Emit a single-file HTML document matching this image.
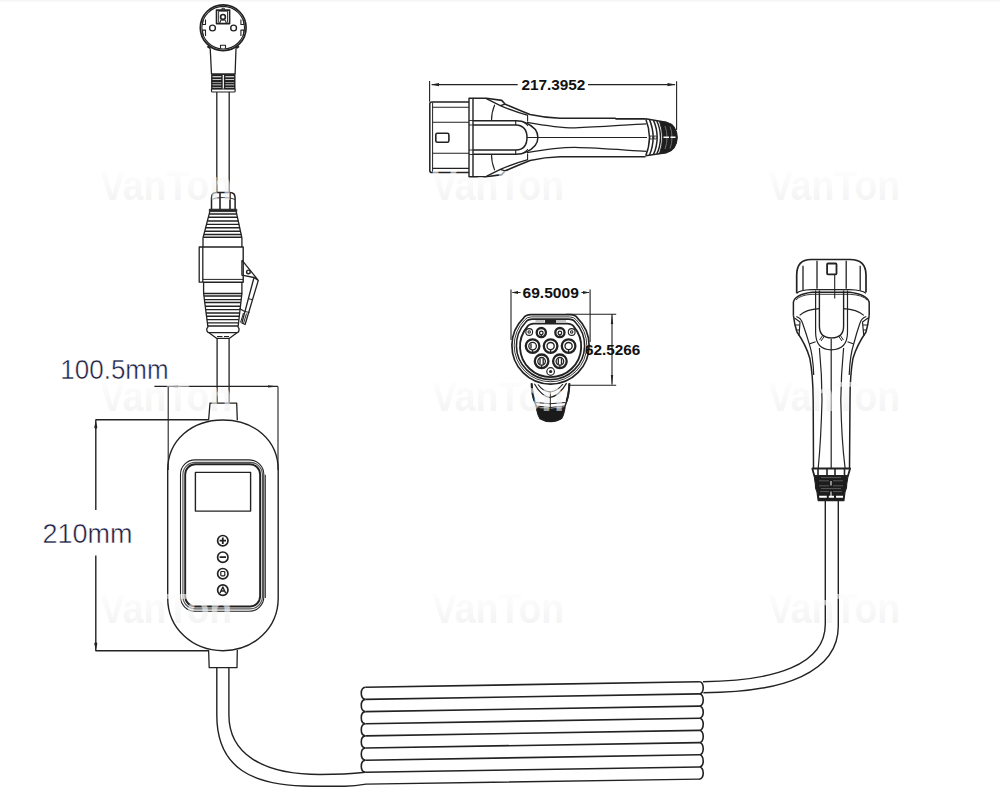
<!DOCTYPE html>
<html><head><meta charset="utf-8"><style>
html,body{margin:0;padding:0;background:#fff;}
svg{display:block;}
text{font-family:"Liberation Sans",sans-serif;}
</style></head><body>
<svg width="1000" height="799" viewBox="0 0 1000 799">
<rect x="0" y="0" width="1000" height="1.6" fill="#f6f6f6"/>
<g fill="none" stroke="#222" stroke-width="1.3" stroke-linejoin="round">
<!-- PLUG -->
<circle cx="223.2" cy="27.7" r="22.9" stroke-width="1.7"/>
<circle cx="223.2" cy="27.7" r="21.3" stroke-width="1.1"/>
<path d="M203.3 19.5Q202.6 22 202.5 24.5H205.5V19.5M203.3 35.9Q202.6 33.4 202.5 30.1H205.5V35.9M243.1 19.5Q243.8 22 243.9 24.5H240.9V19.5M243.1 35.9Q243.8 33.4 243.9 30.1H240.9V35.9" stroke-width="1.1"/>
<path d="M216.5 23.6V10.1H229.6V23.6Z" stroke-width="1.6"/>
<path d="M222 10.1V8.2H224.3V10.1" stroke-width="1"/>
<path d="M218.6 22.3V11.2H227.5V22.3H225.6V20.2H220.5V22.3Z" stroke-width="0.9"/>
<circle cx="223" cy="16.9" r="2.4" stroke-width="1.6"/>
<circle cx="212.5" cy="28" r="2.9" stroke-width="1.4"/>
<circle cx="233.6" cy="28" r="2.9" stroke-width="1.4"/>
<path d="M220.5 48.5V45.2H225.5V48.5" stroke-width="1.1"/>
<path d="M207.4 46.2L210.2 48.3M239 46.2L236.2 48.3" stroke-width="2"/>
<path d="M210.2 48.3L211.5 74.2H235.1L236 48.3" stroke-width="1.3"/>
<path d="M211.5 74.2H235.1" stroke-width="1.3"/>
<path d="M211.8 75.5H222V88.5H211.8ZM224.6 75.5H234.8V88.5H224.6Z" stroke-width="1.4"/>
<g stroke-width="2">
<path d="M211.8 78.2H222M224.6 78.2H234.8M211.8 80.9H222M224.6 80.9H234.8M211.8 83.6H222M224.6 83.6H234.8M211.8 86.2H222M224.6 86.2H234.8"/>
</g>
<path d="M211.5 89H235.1V91.2Q235.1 92 234 92H212.6Q211.5 92 211.5 91.2Z" stroke-width="1.2"/>
<!-- CABLE1 -->
<path d="M216.8 92V192.5M229.2 92V192.5" stroke-width="1.3"/>
<!-- ADAPTER -->
<path d="M211.5 209.2V198Q211.5 192.5 216.5 192.5H230Q235.1 192.5 235.1 198V209.2" stroke-width="1.5"/>
<path d="M211.5 199.5Q215 197.5 223.3 197.5Q231.6 197.5 235.1 199.5" stroke-width="0.9"/>
<path d="M220 193V209.2M230 193V209.2" stroke-width="1.6"/>
<rect x="209.3" y="209.2" width="27.5" height="2.4" fill="#222" stroke-width="0.8"/>
<path d="M209.8 211.6L203 238V247M236.2 211.6L241.9 238V247" stroke-width="1.3"/>
<g stroke-width="1.4">
<path d="M209.2 214H236.8M208.4 217.2H237.6M207.5 221H238.4M206.6 224.4H239.3M205.8 227.8H240.1M205 231.2H240.9M204 234.5H241.3M203.4 237.2H241.6"/>
</g>
<path d="M203 247H243.2V282.2H203" stroke-width="1.4"/>
<path d="M202.8 247V282.2M199.2 247H202.8V282.2H199.2Z" stroke-width="1.3"/>
<path d="M203 279.4H243" stroke-width="1"/>
<path d="M203.6 282.2V293.5H241.9V282.2" stroke-width="1.3"/>
<path d="M203.6 293.5L208 327.6M241.9 293.5L238 327.6" stroke-width="1.3"/>
<g stroke-width="1.4">
<path d="M204 296H241.6M204.3 299.6H241.3M204.8 302.5H240.8M205.2 306.3H240.4M205.6 309.6H240M206 313H239.6M206.4 316.3H239.2M206.8 319.6H238.8M207.2 322.9H238.4M207.6 326H238"/>
</g>
<path d="M208 327.6Q206.5 327.6 206.8 330Q207.2 332.7 209 332.7H237Q238.8 332.7 239 330Q239.3 327.6 238 327.6" stroke-width="1.3"/>
<path d="M209 332.7L216.5 338.3H229.5L237 332.7" stroke-width="1.3"/>
<path d="M217 336.5H222.5M224 336.5H229" stroke-width="1.2"/>
<!-- latch -->
<path d="M241.9 260.2V275.2L254 277.5M241.9 260.2L258.3 280.4L245.1 324.5L241.9 323L254 277.5L258.3 280.4" stroke-width="1.3"/>
<path d="M248.4 298.7L252.2 299.6M244.2 311.3L249.5 312.5M243.5 313L240.5 322.5M246.5 313.5L243.5 323.5" stroke-width="1"/>
<path d="M239.5 308.5L244.2 311.3" stroke-width="1.2"/>
<circle cx="248.4" cy="271.9" r="1.8" stroke-width="1.4"/>
<!-- CABLE2 -->
<path d="M217.1 338.3V403.2M229.1 338.3V403.2" stroke-width="1.3"/>
<!-- BOX -->
<path d="M208.6 420.2L210 403.2H236.7L237.3 420.2" stroke-width="1.3"/>
<path d="M223 420C192 420 167.7 440 167.7 470V598C167.7 628 192 650.7 223 650.7C254 650.7 278.2 628 278.2 598V470C278.2 440 254 420 223 420Z" stroke-width="1.4"/>
<rect x="180.5" y="459.9" width="83.3" height="151.4" rx="14.5" stroke-width="1.1"/>
<path d="M265.3 474.8V598" stroke-width="1"/>
<rect x="182.9" y="462.3" width="79.5" height="146.6" rx="12.3" stroke-width="1.2" stroke="#555"/>
<rect x="185.2" y="464.3" width="74.9" height="142.2" rx="10.2" stroke-width="1.9"/>
<rect x="195.4" y="472.4" width="55.2" height="38.7" stroke-width="1.4"/>
<g stroke-width="1.7">
<circle cx="222.8" cy="540.7" r="5.2"/>
<circle cx="222.8" cy="557.2" r="5.2"/>
<circle cx="222.8" cy="573.7" r="5.2"/>
<circle cx="222.8" cy="590.1" r="5.2"/>
</g>
<path d="M219.6 540.7H226M222.8 537.5V543.9M219.6 557.2H226" stroke-width="1.8"/>
<rect x="220.8" y="571.5" width="4" height="4.4" rx="0.8" stroke-width="1.2"/>
<path d="M220 593L222.8 587L225.6 593M221 591H224.6" stroke-width="1.4"/>
<path d="M208.6 650L209.2 667.7H237L237.3 650" stroke-width="1.3"/>
<!-- CABLEBOX -->
<path d="M216.8 667.7V715C216.8 768 252 786.2 312 786.2H345Q355 786 366 784.1L699 779.1" stroke-width="1.4"/>
<path d="M228.9 667.7V715C228.9 752 260 774.5 320 774.5Q345 774.5 365.4 772.3" stroke-width="1.4"/>
<!-- DIMS -->
<g stroke-width="1.1">
<path d="M154.4 386.4H277.9M168.2 386.4V470M278 386.4V470"/>
<path d="M95.4 419.7H208.6M95.4 650.8H208.6M95.8 420V510M95.8 555.5V651" stroke-width="1.4"/>
</g>
<g fill="#222" stroke="none">
<path d="M277.9 386.4L268 385.2V387.6Z"/>
<path d="M168.2 386.4L178 385.2V387.6Z"/>
<path d="M95.8 421L94.2 427.5L95.8 429.2L97.4 427.5Z"/>
<path d="M95.8 650L94.2 643.5L95.8 641.8L97.4 643.5Z"/>
</g>
<text x="60.3" y="379" font-size="27.5" fill="#1b2044" stroke="#fff" stroke-width="0.5" textLength="108.4" lengthAdjust="spacingAndGlyphs">100.5mm</text>
<text x="42.5" y="542.8" font-size="28" fill="#1b2044" stroke="#fff" stroke-width="0.5" textLength="90" lengthAdjust="spacingAndGlyphs">210mm</text>
<!-- SIDEVIEW -->
<g stroke-width="1.1">
<path d="M429.6 81V101.7M676.6 81.3V130"/>
<path d="M431.7 84.6H517.7M588.1 84.6H675"/>
</g>
<g fill="#222" stroke="none">
<path d="M431.2 84.6L439 83V86.2Z"/>
<path d="M675.5 84.6L667.5 83V86.2Z"/>
</g>
<text x="521.4" y="90.4" font-size="15" font-weight="bold" fill="#111" stroke="none" textLength="64" lengthAdjust="spacingAndGlyphs">217.3952</text>
<path d="M469 101.9H432Q429.8 101.9 429.8 104V170.5Q429.8 172.6 432 172.6H469" stroke-width="1.5"/>
<path d="M432.6 102.5V172" stroke-width="1"/>
<path d="M432.6 107.2H469M432.6 122.3H469M432.6 153.3H469M432.6 168.4H469" stroke-width="1.1"/>
<rect x="435.8" y="133.3" width="13.1" height="9" rx="1.6" stroke-width="1.6"/>
<path d="M469 98.2H473V176.7H469Z" stroke-width="1.4"/>
<path d="M469 120.5H473M469 125H473M469 150H473M469 154.5H473" stroke-width="0.9"/>
<path d="M473 98.3H486.3L501.7 100.4L505.2 104.2Q520 110.5 530 114.5Q545 117.8 560 118.2H615L616 118.9H645.6" stroke-width="1.6"/>
<path d="M473 176.7H486.3L501.7 174.6L505.2 170.8Q520 164.5 530 160.5Q545 157.2 560 156.8H645.6" stroke-width="1.6"/>
<path d="M486.3 98.6L500.3 105.6Q514 111.5 528 115.3M486.3 176.4L500.3 169.4Q514 163.5 528 159.7M500.3 105.6L505.2 104.2M500.3 169.4L505.2 170.8" stroke-width="1.3"/>
<path d="M494.7 104.8Q491.3 113 491.5 121M494.7 170.2Q491.3 162 491.5 154" stroke-width="1.1"/>
<path d="M515.7 120.7V124.9M515.7 150.1V154.3M527.6 115V121.5M527.6 153.5V160" stroke-width="1.1"/>



<path d="M473 120.7H516Q522 120.7 526 123Q537.9 128 537.9 137.5Q537.9 147 526 152Q522 154.3 516 154.3H473" stroke-width="1.5"/>
<path d="M473 124.9H516Q527 125.5 527 137.5Q527 149.5 516 150.1H473" stroke-width="1.5"/>
<path d="M523.5 122L528 126M523.5 153L528 149" stroke-width="1"/>

<path d="M527 122.3C548 126 560 128 575 127.8C600 127 630 124.4 646.3 123.8M527 152.6C548 149 560 147.3 575 147.4C600 148 630 150.5 646.3 151.3" stroke-width="1.2"/>
<path d="M527 137.5H647" stroke-width="1.2"/>
<!-- tail -->
<path d="M645.6 118.8L666 122.3Q676.5 125 677 137.5Q676.5 150 666 152.7L645.6 155.7" stroke-width="1.6"/>
<path d="M659.5 121.5L666 122.3Q676.5 125 677 137.5Q676.5 150 666 152.7L659.5 153.5Q662.5 146 662.5 137.5Q662.5 129 659.5 121.5Z" fill="#1e1e1e" stroke-width="1"/>
<path d="M645.8 119Q649.3 128 649.5 137.5Q649.3 147 645.8 155.5M649.5 119.6Q653 128 653.2 137.5Q653 147 649.5 155M653.5 120.4Q657 128 657.2 137.5Q657 147 653.5 154.4M656.8 121Q660.3 128 660.5 137.5Q660.3 147 656.8 153.9" stroke-width="1.5"/>
<path d="M650 136H652.5V139H650ZM654 136H656.3V139H654Z" fill="#fff" stroke="#222" stroke-width="0.8"/>
<path d="M665 126Q667 131 667 137.5Q667 144 665 149M670 126.5Q672 131 672 137.5Q672 144 670 148.5" stroke="#777" stroke-width="0.9"/>
<path d="M663.5 137.3H669M670.5 137.3H675.5" stroke="#fff" stroke-width="1.4"/>
<!-- FRONTVIEW -->
<g stroke-width="1.1">
<path d="M511 289.4V340M590.1 289.4V342"/>
<path d="M512.5 292.5H520.6M581.4 292.5H588.9"/>
<path d="M566 314.2H616.2M568.6 385.3H616.2M612 314.5V384.6"/>
</g>
<g fill="#222" stroke="none">
<path d="M511.5 292.5L518 291V294Z"/>
<path d="M589.6 292.5L583 291V294Z"/>
<path d="M612 314.5L610.8 324H613.2Z"/>
<path d="M612 384.8L610.8 375H613.2Z"/>
</g>
<text x="522.5" y="298.1" font-size="14" font-weight="bold" fill="#111" stroke="none" textLength="56.3" lengthAdjust="spacingAndGlyphs">69.5009</text>
<!-- handle under -->
<path d="M531.6 383.1Q533 398 536.3 406.3Q537.5 414 540 418.5Q545 421.5 551 421.5Q557 421.5 561.5 418.5Q564 414 565 406.3Q568.5 398 569.4 383.1" stroke-width="1.5"/>
<path d="M534.4 383.8Q541 396 550 397.5Q559 396 566.6 383.1M538 384.5Q543 391.5 550 392Q557 391.5 563 384" stroke-width="1.2"/>
<path d="M550.3 391.3V410M535.5 402.5Q550 405 565.5 402.5M536.5 406Q550 409 564.8 406" stroke-width="1"/>
<path d="M536.6 407.5Q550 410.5 564.8 407.5Q563.5 415 561.5 418.5Q557 421.5 551 421.5Q545 421.5 540 418.5Q537.5 414 536.6 407.5Z" fill="#1a1a1a" stroke-width="1"/>
<path d="M531.6 383.5Q532 395 534.5 401" stroke-width="2"/>
<path d="M569.4 383.5Q569 395 566.5 401" stroke-width="2"/>
<!-- outer head -->
<path d="M530.7 314.6 H570.3 Q575.2 314.6 577.3 317.8 A38.6 38.6 0 1 1 523.7 317.8 Q525.8 314.6 530.7 314.6 Z" fill="#fff" stroke-width="1.7"/>
<path d="M531.6 316.9 H569.4 Q574.3 316.9 576.4 320.0 A36.3 36.3 0 1 1 524.6 320.0 Q526.7 316.9 531.6 316.9 Z" stroke-width="0.9"/>
<path d="M532.6 319.1 H568.4 Q573.3 319.1 575.4 322.2 A34.1 34.1 0 1 1 525.6 322.2 Q527.7 319.1 532.6 319.1 Z" stroke-width="1.6"/>
<path d="M534.2 323.6 H567.0 Q571.9 323.6 574.0 326.8 A30.6 30.6 0 1 1 527.2 326.8 Q529.3 323.6 534.2 323.6 Z" stroke-width="1.9"/>
<path d="M535.5 321H544.5M556 321H566" stroke-width="1" stroke="#888"/>
<rect x="545" y="320" width="11" height="3.6" fill="#222" stroke="none"/>
<g stroke-width="1.1">
<circle cx="529.2" cy="332" r="3.4"/><circle cx="529.2" cy="332" r="1.2"/>
<circle cx="571.7" cy="332" r="3.4"/><circle cx="571.7" cy="332" r="1.2"/>
</g>
<g stroke-width="2.3">
<circle cx="541.3" cy="332.6" r="4.6"/>
<circle cx="559.9" cy="332.6" r="4.6"/>
<circle cx="532.6" cy="346.1" r="6.8"/>
<circle cx="550.6" cy="346.1" r="6.8"/>
<circle cx="568.6" cy="346.1" r="6.8"/>
<circle cx="541.6" cy="361.3" r="6.8"/>
<circle cx="559.9" cy="361.3" r="6.8"/>
</g>
<g stroke-width="1.3">
<circle cx="541.3" cy="333" r="1.8"/>
<circle cx="559.9" cy="333" r="1.8"/>
<circle cx="532.6" cy="346.1" r="3.8"/>
<circle cx="550.6" cy="346.1" r="3.6"/>
<circle cx="568.6" cy="346.1" r="3.6"/>
<circle cx="541.6" cy="361.3" r="3.8"/>
<circle cx="559.9" cy="361.3" r="3.8"/>
<path d="M541.3 334.8V337.2M559.9 334.8V337.2M532.6 350V353M550.6 349.7V353M568.6 349.7V353M541.6 365V368M559.9 365V368M531 343.5V348.5M540 358.5V364M558.3 358.5V364M543.2 358.5V364M561.5 358.5V364"/>
</g>
<circle cx="550.6" cy="371.5" r="3.8" stroke-width="1.2"/>
<circle cx="550.6" cy="371.5" r="1.6" fill="#222" stroke="none"/>
<text x="585" y="355.2" font-size="15.5" font-weight="bold" fill="#111" stroke="none" textLength="55.3" lengthAdjust="spacingAndGlyphs">62.5266</text>
<!-- HANDLE -->
<path d="M796.7 293.2V275Q796.7 259.5 811 259.5H850Q866 259.5 866 275V292.3" stroke-width="1.7"/>
<path d="M803 265.8V290.5M817 260.8V288.7M846.2 260.8V288.7M860.2 265.8V290.5" stroke-width="1.3"/>
<rect x="827.1" y="263.5" width="9.4" height="10.8" rx="0.8" stroke-width="1.8"/>
<path d="M834.7 274.3V298.6" stroke-width="1.1"/>
<path d="M793.4 315.4V302.2Q795 294.5 812 292.3H849.8Q867 294.5 869.2 302.2V315.4" stroke-width="1.5"/>
<path d="M796.7 293.2Q800 290 811.1 289.6H849.8Q862 290 866 293.2" stroke-width="1.2"/>
<path d="M796 300Q800 295 812 294.3H849.8Q863 295 867 300" stroke-width="0.9"/>
<!-- U -->
<path d="M819.4 290.5V326Q819.4 337.9 831.5 337.9Q843.6 337.9 843.6 326V290.5" stroke-width="1.4"/>
<path d="M815.6 290.5V332.3Q815.6 349.8 831.2 349.8Q847.5 349.8 847.5 332.3V290.5" stroke-width="1.2"/>
<path d="M823 335L819.6 340M840 335L843.4 340M824.5 336L821 341M838.5 336L842 341" stroke-width="1"/>
<path d="M831.2 338.5V500" stroke-width="1.2"/>
<path d="M799.6 315.4Q806 309.5 819.4 308.7M843.6 308.7Q857 309.5 863.8 315.4" stroke-width="1.2"/>
<path d="M809.2 344.1L815.6 341.8M847.5 341.8L853.7 344" stroke-width="1.1"/>
<!-- side contours -->
<path d="M793.4 315.4Q794.5 325 797 332Q806 345 809.8 358.2Q813 375 813.2 400Q813.5 440 813.5 468.2" stroke-width="1.5"/>
<path d="M796.3 316.5Q801 318 802.5 323Q806 333 809.2 343.6Q813 355 813.7 375" stroke-width="1.2"/>
<path d="M869.2 315.4Q868 325 866 332Q857 345 853 358.2Q850 375 850 400Q849.6 440 849.5 468.2" stroke-width="1.5"/>
<path d="M866.3 316.5Q861.5 318 860 323Q856.5 333 853.7 344Q850 355 849.2 375" stroke-width="1.2"/>
<path d="M794.5 318L800 322L799 336M868 318L862.5 322L863.8 336" stroke-width="1.2"/>
<path d="M795.5 325H799.5M795.8 330H799.2M863 325H867M863.3 330H866.8" stroke-width="1.1"/>
<path d="M819.4 348Q822 375 822 400Q821 440 818.2 468.2M843.6 348Q841 375 840.8 400Q841.5 440 845.1 468.2" stroke-width="1.2"/>
<!-- ribbed cap -->
<path d="M812.3 468.5H850.1L848 475.8H814.3Z" fill="#fff" stroke-width="1.8"/>
<path d="M818 469V475.8M827 469V475.8M835 469V475.8M844.5 469V475.8" stroke-width="1.6"/>
<path d="M814.3 475.8H848Q847.5 480 846.7 484Q847 488 845 492Q844.5 496 843.9 500.6H818.2Q817.5 496 817 492Q815 488 815.4 484Q814.6 480 814.3 475.8Z" fill="#1c1c1c" stroke-width="1.2"/>
<path d="M821 477.6H841M819 480.8H829M833 480.8H843M819 485.8H829M833 485.8H843M821 488.6H841M820 491.6H829M833 491.6H842" stroke="#6a6a6a" stroke-width="0.8"/>
<path d="M831 481V485.5M831 491.5V496" stroke="#ddd" stroke-width="1.2"/>
<path d="M819.2 496.8H826.8M828.8 496.8H834M836 496.8H843" stroke="#fff" stroke-width="2"/>
<!-- right cable -->
<path d="M825.3 500.1V624C825.3 665 775 681 703 681.7" stroke-width="1.4"/>
<path d="M838.3 500.1V626C838.3 672 785 692.5 703.4 692.7" stroke-width="1.4"/>
<!-- COIL -->
<path d="M365.4 687.3 L699.1 681.7" stroke-width="1.6"/>
<path d="M365.4 699.4 L699.1 693.9" stroke-width="1.6"/>
<path d="M365.4 711.6 L699.1 706.1" stroke-width="1.6"/>
<path d="M365.4 723.8 L699.1 718.2" stroke-width="1.6"/>
<path d="M365.4 735.9 L699.1 730.4" stroke-width="1.6"/>
<path d="M365.4 748.0 L699.1 742.6" stroke-width="1.6"/>
<path d="M365.4 760.2 L699.1 754.8" stroke-width="1.6"/>
<path d="M365.4 772.3 L699.1 767.0" stroke-width="1.6"/>
<path d="M365.4 687.3 C359.9 687.8 359.9 698.9 365.4 699.4 M365.4 699.4 C359.9 699.9 359.9 711.1 365.4 711.6 M365.4 711.6 C359.9 712.1 359.9 723.2 365.4 723.7 M365.4 723.8 C359.9 724.2 359.9 735.4 365.4 735.9 M365.4 735.9 C359.9 736.4 359.9 747.5 365.4 748.0 M365.4 748.0 C359.9 748.5 359.9 759.7 365.4 760.2 M365.4 760.2 C359.9 760.7 359.9 771.8 365.4 772.3 M699.1 681.7 C704.6 681.2 704.6 694.4 699.1 693.9 M699.1 693.9 C704.6 693.4 704.6 706.6 699.1 706.1 M699.1 706.1 C704.6 705.6 704.6 718.7 699.1 718.2 M699.1 718.2 C704.6 717.7 704.6 730.9 699.1 730.4 M699.1 730.4 C704.6 729.9 704.6 743.1 699.1 742.6 M699.1 742.6 C704.6 742.1 704.6 755.3 699.1 754.8 M699.1 754.8 C704.6 754.3 704.6 767.5 699.1 767.0 M699.1 767.0 C704.6 766.5 704.6 779.6 699.1 779.1 " stroke-width="1.6"/>
</g>
<defs><linearGradient id="wg" x1="0" y1="0" x2="0" y2="1"><stop offset="0.1" stop-color="#fefefe"/><stop offset="1" stop-color="#e8e8e8"/></linearGradient></defs>
<g id="wm" fill="url(#wg)" fill-opacity="0.6" font-family="Liberation Sans" font-weight="bold" font-size="42">
<text x="100" y="200" textLength="132" lengthAdjust="spacingAndGlyphs">VanTon</text>
<text x="432" y="200" textLength="132" lengthAdjust="spacingAndGlyphs">VanTon</text>
<text x="768" y="200" textLength="132" lengthAdjust="spacingAndGlyphs">VanTon</text>
<text x="100" y="411" textLength="132" lengthAdjust="spacingAndGlyphs">VanTon</text>
<text x="432" y="411" textLength="132" lengthAdjust="spacingAndGlyphs">VanTon</text>
<text x="768" y="411" textLength="132" lengthAdjust="spacingAndGlyphs">VanTon</text>
<text x="100" y="623" textLength="132" lengthAdjust="spacingAndGlyphs">VanTon</text>
<text x="432" y="623" textLength="132" lengthAdjust="spacingAndGlyphs">VanTon</text>
<text x="768" y="623" textLength="132" lengthAdjust="spacingAndGlyphs">VanTon</text>
</g>
</svg>
</body></html>
